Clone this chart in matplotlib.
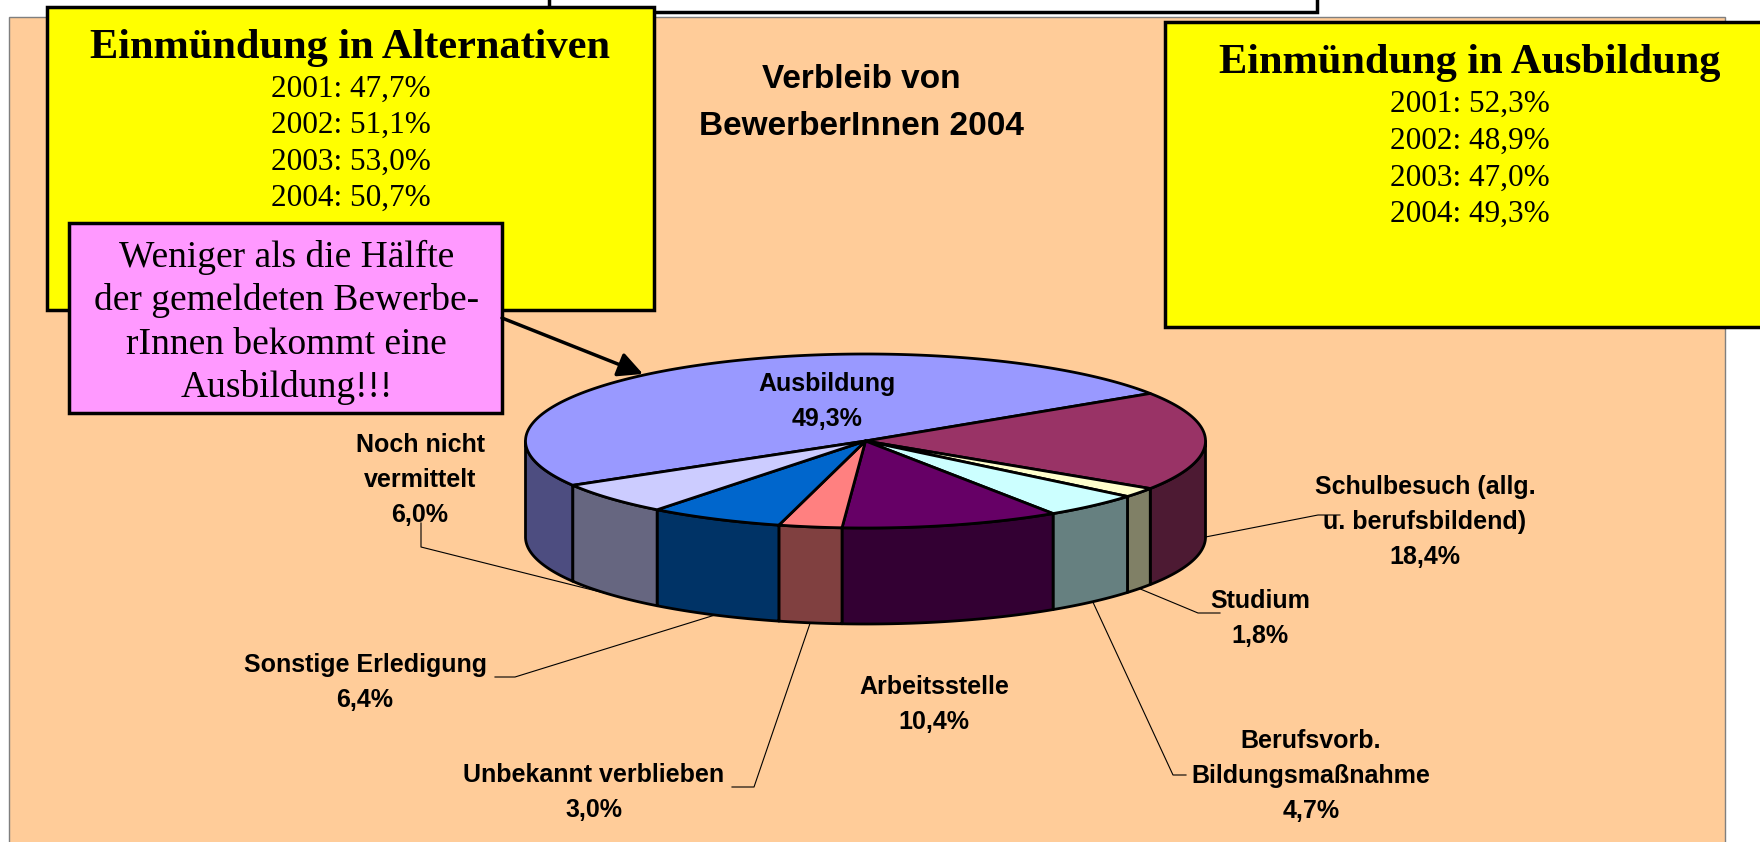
import numpy as np
import matplotlib.pyplot as plt
from matplotlib.patches import Polygon, Rectangle
from matplotlib.colors import to_rgb

plt.rcParams['font.family'] = ['Liberation Sans', 'DejaVu Sans']
SERIF = ['Liberation Serif', 'DejaVu Serif']

# Verbleib der BewerberInnen 2004 (Reihenfolge wie im Excel-Kreis, im Uhrzeigersinn)
categories = ['Ausbildung', 'Schulbesuch (allg.\nu. berufsbildend)', 'Studium',
              'Berufsvorb.\nBildungsmaßnahme', 'Arbeitsstelle',
              'Unbekannt verblieben', 'Sonstige Erledigung', 'Noch nicht\nvermittelt']
shares = [49.3, 18.4, 1.8, 4.7, 10.4, 3.0, 6.4, 6.0]
slice_colors = ['#9999FF', '#993366', '#FFFFCC', '#CCFFFF',
                '#660066', '#FF8080', '#0066CC', '#CCCCFF']

years = ['2001', '2002', '2003', '2004']
alt_rate = [47.7, 51.1, 53.0, 50.7]
ausb_rate = [52.3, 48.9, 47.0, 49.3]

note_lines = ['Weniger als die Hälfte', 'der gemeldeten Bewerbe-',
              'rInnen bekommt eine', 'Ausbildung!!!']


def pct(v):
    return f'{v:.1f}'.replace('.', ',') + '%'


fig = plt.figure(figsize=(17.6, 8.42), dpi=100)
ax = fig.add_axes([0, 0, 1, 1])
ax.set_xlim(0, 1760)
ax.set_ylim(842, 0)
ax.axis('off')

# hintergrund
ax.add_patch(Rectangle((9, 17), 1716, 840, fc='#FFCC99', ec='#7f7f7f', lw=1, zorder=1))
ax.add_patch(Rectangle((549, -10), 768, 22, fc='white', ec='black', lw=2.5, zorder=2))

ax.text(861, 88, 'Verbleib von', ha='center', va='baseline', fontsize=24, weight='bold', zorder=3)
ax.text(861, 135, 'BewerberInnen 2004', ha='center', va='baseline', fontsize=24, weight='bold', zorder=3)

# 3d kreis
cx, cy, rx, ry, depth = 865.5, 441, 340, 87, 96
start = 210.6
edges = start - 360 * np.cumsum([0] + shares) / 100


def rim(t, dz=0):
    t = np.radians(t)
    return np.column_stack([cx + rx * np.cos(t), cy - ry * np.sin(t) + dz])


for i in range(len(shares)):
    hi, lo = edges[i], edges[i + 1]
    side = np.array(to_rgb(slice_colors[i])) * 0.5
    for f0, f1 in [(-180, 0), (180, 360)]:
        a, b = max(lo, f0), min(hi, f1)
        if b > a:
            ts = np.linspace(a, b, 80)
            pts = np.vstack([rim(ts), rim(ts[::-1], depth)])
            ax.add_patch(Polygon(pts, closed=True, fc=side, ec='black', lw=2, joinstyle='round', zorder=3))
    ts = np.linspace(lo, hi, 240)
    pts = np.vstack([[cx, cy], rim(ts)])
    ax.add_patch(Polygon(pts, closed=True, fc=slice_colors[i], ec='black', lw=2, joinstyle='round', zorder=4))

# beschriftungen
label_pos = [(827, 391), (1425, 494), (1260, 608), (1311, 748),
             (934, 694), (594, 782), (365, 672), (420, 452)]
leaders = [None, [(1340, 515), (1318, 515)], [(1220, 613), (1198, 613)],
           [(1186, 775), (1173, 775)], None, [(732, 787), (754, 787)],
           [(495, 677), (515, 677)], [(421, 523), (421, 547)]]
step = 35
for i, cat in enumerate(categories):
    lines = cat.split('\n') + [pct(shares[i])]
    x, y = label_pos[i]
    for k, ln in enumerate(lines):
        ax.text(x, y + k * step, ln, ha='center', va='baseline', fontsize=18, weight='bold', zorder=6)
    if leaders[i]:
        mid = (edges[i] + edges[i + 1]) / 2
        anchor = rim(np.array([mid]), depth)[0]
        pts = np.array(leaders[i] + [tuple(anchor)])
        ax.plot(pts[:, 0], pts[:, 1], color='black', lw=0.8, zorder=5)

# gelbe kaesten
ax.add_patch(Rectangle((47, 7), 607, 303, fc='#FFFF00', ec='black', lw=2.5, zorder=7))
ax.text(350.5, 58, 'Einmündung in Alternativen', ha='center', va='baseline',
        fontsize=30.5, weight='bold', family=SERIF, zorder=8)
for k, (yr, v) in enumerate(zip(years, alt_rate)):
    ax.text(350.5, 97 + k * 36.3, f'{yr}: {pct(v)}', ha='center', va='baseline',
            fontsize=22.5, family=SERIF, zorder=8)

ax.add_patch(Rectangle((1165, 22), 620, 305, fc='#FFFF00', ec='black', lw=2.5, zorder=7))
ax.text(1470, 73, 'Einmündung in Ausbildung', ha='center', va='baseline',
        fontsize=30.5, weight='bold', family=SERIF, zorder=8)
for k, (yr, v) in enumerate(zip(years, ausb_rate)):
    ax.text(1470, 112 + k * 36.7, f'{yr}: {pct(v)}', ha='center', va='baseline',
            fontsize=22.5, family=SERIF, zorder=8)

# rosa hinweis mit pfeil
ax.add_patch(Rectangle((69, 223), 433, 190, fc='#FF99FF', ec='black', lw=2.5, zorder=9))
for k, ln in enumerate(note_lines):
    ax.text(286.5, 267 + k * 43.3, ln, ha='center', va='baseline', fontsize=27, family=SERIF, zorder=10)

ax.annotate('', xy=(643, 374), xytext=(502, 318), zorder=10,
            arrowprops=dict(arrowstyle='-|>,head_length=1.0,head_width=0.5', lw=2.5,
                            color='black', mutation_scale=15, shrinkA=0, shrinkB=0))

fig.savefig('out.png', dpi=100)
